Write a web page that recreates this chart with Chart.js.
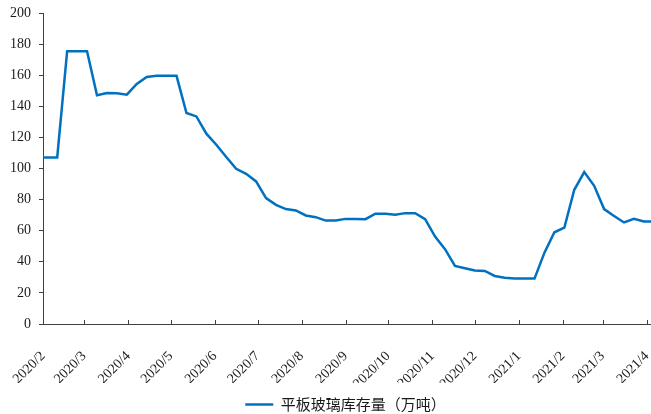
<!DOCTYPE html>
<html>
<head>
<meta charset="utf-8">
<script src="https://cdn.jsdelivr.net/npm/chart.js@4/dist/chart.umd.min.js"></script>
<style>
  html, body { margin: 0; padding: 0; background: #fff; }
  #wrap { width: 651px; height: 414px; position: relative; }
</style>
</head>
<body>
<div id="wrap"><canvas id="c"></canvas></div>
<script>
// Weekly flat-glass inventory, 10k tonnes
const weekDates = [
  '2020-01-28', '2020-02-04', '2020-02-11', '2020-02-18', '2020-02-25',
  '2020-03-03', '2020-03-10', '2020-03-17', '2020-03-24', '2020-03-31',
  '2020-04-07', '2020-04-14', '2020-04-21', '2020-04-28',
  '2020-05-05', '2020-05-12', '2020-05-19', '2020-05-26',
  '2020-06-02', '2020-06-09', '2020-06-16', '2020-06-23', '2020-06-30',
  '2020-07-07', '2020-07-14', '2020-07-21', '2020-07-28',
  '2020-08-04', '2020-08-11', '2020-08-18', '2020-08-25',
  '2020-09-01', '2020-09-08', '2020-09-15', '2020-09-22', '2020-09-29',
  '2020-10-06', '2020-10-13', '2020-10-20', '2020-10-27',
  '2020-11-03', '2020-11-10', '2020-11-17', '2020-11-24',
  '2020-12-01', '2020-12-08', '2020-12-15', '2020-12-22', '2020-12-29',
  '2021-01-05', '2021-01-12', '2021-01-19', '2021-01-26',
  '2021-02-02', '2021-02-09', '2021-02-16', '2021-02-23',
  '2021-03-02', '2021-03-09', '2021-03-16', '2021-03-23', '2021-03-30',
  '2021-04-06'
];
const inventory = [
  107.1, 107.1, 107.1, 175.4, 175.4,
  175.4, 147.1, 148.6, 148.4, 147.5,
  154.4, 158.9, 159.6, 159.6,
  159.6, 135.7, 133.5, 122.4,
  115.3, 107.4, 99.8, 96.6, 91.7,
  81.0, 76.6, 73.9, 73.0,
  69.8, 68.7, 66.5, 66.5,
  67.6, 67.6, 67.4, 70.9, 70.9,
  70.2, 71.3, 71.3, 67.4,
  56.2, 48.1, 37.4, 35.9,
  34.4, 34.1, 30.9, 29.8, 29.3,
  29.2, 29.2, 45.9, 59.0,
  62.0, 86.3, 97.7, 88.9,
  73.9, 69.5, 65.3, 67.6, 65.9,
  65.9
];
const monthStarts = [
  '2020-02-01', '2020-03-01', '2020-04-01', '2020-05-01', '2020-06-01',
  '2020-07-01', '2020-08-01', '2020-09-01', '2020-10-01', '2020-11-01',
  '2020-12-01', '2021-01-01', '2021-02-01', '2021-03-01', '2021-04-01'
];
const tickLabels = [
  '2020/2', '2020/3', '2020/4', '2020/5', '2020/6',
  '2020/7', '2020/8', '2020/9', '2020/10', '2020/11',
  '2020/12', '2021/1', '2021/2', '2021/3', '2021/4'
];
const seriesName = '平板玻璃库存量（万吨）';
const axisEndDate = '2021-04-04';

// dates become day offsets from the first axis date
const ORIGIN = Date.UTC(2020, 1, 1);
function dayOf(s) {
  const [y, m, d] = s.split('-').map(Number);
  return (Date.UTC(y, m - 1, d) - ORIGIN) / 86400000;
}

const LINE = '#0070C0';
const AXIS = '#404040';
const SERIF = "'Liberation Serif', 'Times New Roman', serif";

// x-axis tick marks point up into the plot
const innerTicks = {
  id: 'innerTicks',
  afterDatasetsDraw(chart) {
    const s = chart.scales.x;
    const ctx = chart.ctx;
    ctx.save();
    ctx.strokeStyle = AXIS;
    ctx.lineWidth = 1;
    s.ticks.forEach((t, i) => {
      const x = Math.round(s.getPixelForTick(i)) + 0.5;
      ctx.beginPath();
      ctx.moveTo(x, s.top);
      ctx.lineTo(x, s.top - 4);
      ctx.stroke();
    });
    ctx.restore();
  }
};

// nudge the legend under the plot area
const legendShift = {
  id: 'legendShift',
  afterLayout(chart) {
    const lg = chart.legend;
    if (!lg) return;
    lg.left += 40;
    lg.top += 8;
  }
};

new Chart(document.getElementById('c'), {
  type: 'line',
  data: {
    datasets: [{
      label: seriesName,
      data: weekDates.map((d, i) => ({ x: dayOf(d), y: inventory[i] })),
      borderColor: LINE,
      backgroundColor: LINE,
      borderWidth: 2.5,
      pointRadius: 0,
      tension: 0,
      clip: 0
    }]
  },
  options: {
    responsive: true,
    maintainAspectRatio: false,
    animation: false,
    devicePixelRatio: 1,
    layout: { padding: { top: 13, right: 0, left: 0, bottom: 0 } },
    scales: {
      x: {
        type: 'linear',
        min: 0,
        max: dayOf(axisEndDate),
        afterBuildTicks(s) {
          s.ticks = monthStarts.map(d => ({ value: dayOf(d) }));
        },
        afterFit(s) {
          s.paddingLeft = 0;
          s.paddingRight = 0;
          s.height = 59;
        },
        ticks: {
          autoSkip: false,
          maxRotation: 45,
          minRotation: 45,
          padding: 24,
          color: '#1a1a1a',
          font: { family: SERIF, size: 14 },
          callback: (v, i) => tickLabels[i]
        },
        grid: { drawOnChartArea: false, drawTicks: false },
        border: { display: true, color: AXIS, width: 1 }
      },
      y: {
        min: 0,
        max: 200,
        afterFit(s) {
          s.width = 43;
          s.paddingTop = 0;
          s.paddingBottom = 0;
        },
        ticks: {
          stepSize: 20,
          padding: 8,
          color: '#1a1a1a',
          font: { family: SERIF, size: 14 }
        },
        grid: { drawOnChartArea: false, drawTicks: true, tickLength: 4, color: AXIS },
        border: { display: true, color: AXIS, width: 1 }
      }
    },
    plugins: {
      tooltip: { enabled: false },
      legend: {
        position: 'bottom',
        labels: {
          usePointStyle: true,
          pointStyle: 'line',
          pointStyleWidth: 28,
          padding: 6,
          color: '#1a1a1a',
          font: { family: "'Noto Sans CJK SC', sans-serif", size: 15 }
        }
      }
    }
  },
  plugins: [innerTicks, legendShift]
});
</script>
</body>
</html>
